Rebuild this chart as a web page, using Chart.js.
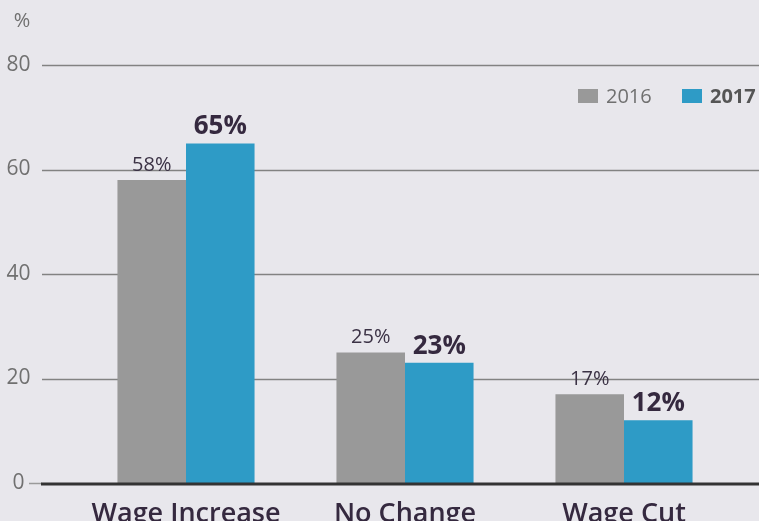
<!DOCTYPE html>
<html>
<head>
<meta charset="utf-8">
<script src="https://cdn.jsdelivr.net/npm/chart.js@4.4.1/dist/chart.umd.min.js"></script>
<style>
  html, body { margin: 0; padding: 0; background: #e8e7ec; }
  #wrap { width: 759px; height: 521px; position: relative; }
</style>
</head>
<body>
<div id="wrap"><canvas id="chart"></canvas></div>
<script>
// Chart data
const categories = ['Wage Increase', 'No Change', 'Wage Cut'];
const seriesNames = ['2016', '2017'];
const values2016 = [58, 25, 17];
const values2017 = [65, 23, 12];
const yTickValues = [0, 20, 40, 60, 80];
const unitLabel = '%';

const FONT = "'Open Sans', 'Noto Sans', sans-serif";
const colors = {
    bg: '#e8e7ec',
    grey: '#999999',
    blue: '#2e9bc6',
    grid: '#828282',
    baseline: '#333333',
    tickText: '#707070',
    labelText: '#35293f'
};

// Horizontal grid lines run wider than the plot area, so draw them here
const gridPlugin = {
    id: 'gridLines',
    beforeDatasetsDraw(chart) {
        const { ctx, scales: { y }, width } = chart;
        ctx.save();
        ctx.strokeStyle = colors.grid;
        ctx.lineWidth = 1.5;
        yTickValues.filter(v => v > 0).forEach(v => {
            const py = Math.round(y.getPixelForValue(v)) + 0.5;
            ctx.beginPath();
            ctx.moveTo(42, py);
            ctx.lineTo(width, py);
            ctx.stroke();
        });
        ctx.restore();
    },
    afterDatasetsDraw(chart) {
        const { ctx, scales: { y }, width } = chart;
        const py = y.getPixelForValue(0);
        ctx.save();
        ctx.strokeStyle = '#9a9a9a';
        ctx.lineWidth = 1.5;
        ctx.beginPath();
        ctx.moveTo(29, py + 0.5);
        ctx.lineTo(42, py + 0.5);
        ctx.stroke();
        ctx.strokeStyle = colors.baseline;
        ctx.lineWidth = 3;
        ctx.beginPath();
        ctx.moveTo(41, py + 1);
        ctx.lineTo(width, py + 1);
        ctx.stroke();
        ctx.restore();
    }
};

// Value labels above bars, legend and unit label
const annotatePlugin = {
    id: 'annotate',
    afterDraw(chart) {
        const { ctx } = chart;
        ctx.save();
        ctx.textAlign = 'center';
        ctx.textBaseline = 'alphabetic';
        chart.data.datasets.forEach((ds, di) => {
            const meta = chart.getDatasetMeta(di);
            meta.data.forEach((bar, i) => {
                if (di === 0) {
                    ctx.font = `400 20px ${FONT}`;
                    ctx.fillStyle = '#3b3245';
                } else {
                    ctx.font = `700 26px ${FONT}`;
                    ctx.fillStyle = colors.labelText;
                }
                ctx.fillText(ds.data[i] + '%', bar.x, bar.y - 9);
            });
        });

        // unit label
        ctx.font = `400 20px ${FONT}`;
        ctx.fillStyle = colors.tickText;
        ctx.fillText(unitLabel, 22, 27);

        // legend
        const legendX = [578, 682];
        ctx.textAlign = 'left';
        chart.data.datasets.forEach((ds, di) => {
            ctx.fillStyle = ds.backgroundColor;
            ctx.fillRect(legendX[di], 89, 20, 14);
            ctx.font = di === 0 ? `400 20px ${FONT}` : `700 20px ${FONT}`;
            ctx.fillStyle = di === 0 ? colors.tickText : '#555555';
            ctx.fillText(ds.label, legendX[di] + 28, 103);
        });
        ctx.restore();
    }
};

const ctx = document.getElementById('chart').getContext('2d');
new Chart(ctx, {
    type: 'bar',
    data: {
        labels: categories,
        datasets: [
            {
                label: seriesNames[0],
                data: values2016,
                backgroundColor: colors.grey,
                borderWidth: 0,
                categoryPercentage: 0.626,
                barPercentage: 1.0
            },
            {
                label: seriesNames[1],
                data: values2017,
                backgroundColor: colors.blue,
                borderWidth: 0,
                categoryPercentage: 0.626,
                barPercentage: 1.0
            }
        ]
    },
    options: {
        responsive: true,
        maintainAspectRatio: false,
        animation: false,
        devicePixelRatio: 1,
        layout: {
            padding: { left: 0, right: 25.5, top: 65, bottom: 0 }
        },
        scales: {
            x: {
                grid: { display: false },
                border: { display: false },
                ticks: {
                    color: colors.labelText,
                    font: { family: FONT, size: 27, weight: '600' },
                    padding: 7,
                    maxRotation: 0,
                    autoSkip: false
                },
                afterFit: (scale) => { scale.height = 38; }
            },
            y: {
                min: 0,
                max: 80,
                grid: { display: false, drawTicks: false },
                border: { display: false },
                ticks: {
                    stepSize: 20,
                    padding: 46,
                    crossAlign: 'center',
                    color: colors.tickText,
                    font: { family: FONT, size: 21 }
                },
                afterFit: (scale) => {
                    scale.width = 76.5;
                    // tick padding should not push the plot area vertically
                    scale.paddingTop = 0;
                    scale.paddingBottom = 0;
                }
            }
        },
        plugins: {
            legend: { display: false },
            tooltip: { enabled: false }
        }
    },
    plugins: [gridPlugin, annotatePlugin]
});
</script>
</body>
</html>
